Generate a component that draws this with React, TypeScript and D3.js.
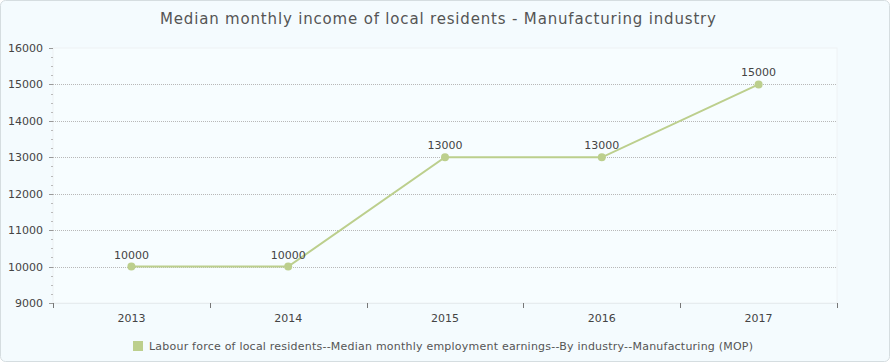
import React from "react";
import * as d3 from "d3";

const years = ["2013", "2014", "2015", "2016", "2017"];
const values = [10000, 10000, 13000, 13000, 15000];
const yTicks = [9000, 10000, 11000, 12000, 13000, 14000, 15000, 16000];
const title = "Median monthly income of local residents - Manufacturing industry";
const seriesName = "Labour force of local residents--Median monthly employment earnings--By industry--Manufacturing (MOP)";

const W = 890, H = 362;
const M = { left: 53, right: 837, top: 48, bottom: 303 };
const FONT = "DejaVu Sans, Verdana, sans-serif";
const LINE = "#bccf8d";

export default function App() {
  const x = d3.scaleBand().domain(years).range([M.left, M.right]);
  const y = d3.scaleLinear().domain([9000, 16000]).range([M.bottom, M.top]);
  const line = d3.line<number>().x((_, i) => x(years[i])! + x.bandwidth() / 2).y(d => y(d));
  const minor: number[] = [];
  for (let v = 9000; v < 16000; v += 250) if (v % 1000 !== 0) minor.push(v);
  const bounds = [...years.map(c => x(c)!), M.right];
  return (
    <svg width={W} height={H} style={{ position: "absolute", left: 0, top: 0, fontFamily: FONT }}>
      <rect x={0.5} y={0.5} width={W - 1} height={H - 1} rx={5} fill="#f4fbfe" stroke="#d5dde0" />
      <rect x={M.left} y={M.top} width={M.right - M.left} height={M.bottom - M.top} fill="#f7fdff" stroke="#eef2f4" />
      <text x={160} y={24} fontSize={15} fill="#555" textLength={556} lengthAdjust="spacing">{title}</text>
      {yTicks.slice(1, -1).map(v => (
        <line key={v} x1={M.left} x2={M.right} y1={Math.round(y(v)) + 0.5} y2={Math.round(y(v)) + 0.5} stroke="#b8b8b8" strokeDasharray="1,1" />
      ))}
      {yTicks.map(v => (
        <g key={"t" + v}>
          <line x1={M.left - 4} x2={M.left} y1={Math.round(y(v)) + 0.5} y2={Math.round(y(v)) + 0.5} stroke="#999" />
          <text x={43} y={y(v) + 4} textAnchor="end" fontSize={11} fill="#444">{v}</text>
        </g>
      ))}
      {minor.map(v => (
        <line key={"m" + v} x1={M.left - 2} x2={M.left} y1={Math.round(y(v)) + 0.5} y2={Math.round(y(v)) + 0.5} stroke="#bbb" />
      ))}
      <line x1={M.left} x2={M.right} y1={M.bottom + 0.5} y2={M.bottom + 0.5} stroke="#e6ecef" />
      {bounds.map((b, i) => (
        <line key={"b" + i} x1={Math.round(b) + 0.5} x2={Math.round(b) + 0.5} y1={M.bottom} y2={M.bottom + 5} stroke="#777" />
      ))}
      {years.map(c => (
        <text key={c} x={x(c)! + x.bandwidth() / 2} y={322} textAnchor="middle" fontSize={11} fill="#444">{c}</text>
      ))}
      <path d={line(values) ?? ""} fill="none" stroke={LINE} strokeWidth={2} />
      {values.map((v, i) => (
        <g key={"p" + i}>
          <circle cx={x(years[i])! + x.bandwidth() / 2} cy={y(v)} r={4} fill={LINE} />
          <text x={x(years[i])! + x.bandwidth() / 2} y={y(v) - 8} textAnchor="middle" fontSize={11} fill="#444">{v}</text>
        </g>
      ))}
      <rect x={133} y={341} width={10} height={10} fill={LINE} />
      <text x={149} y={350} fontSize={11} fill="#555" textLength={604} lengthAdjust="spacing">{seriesName}</text>
    </svg>
  );
}
